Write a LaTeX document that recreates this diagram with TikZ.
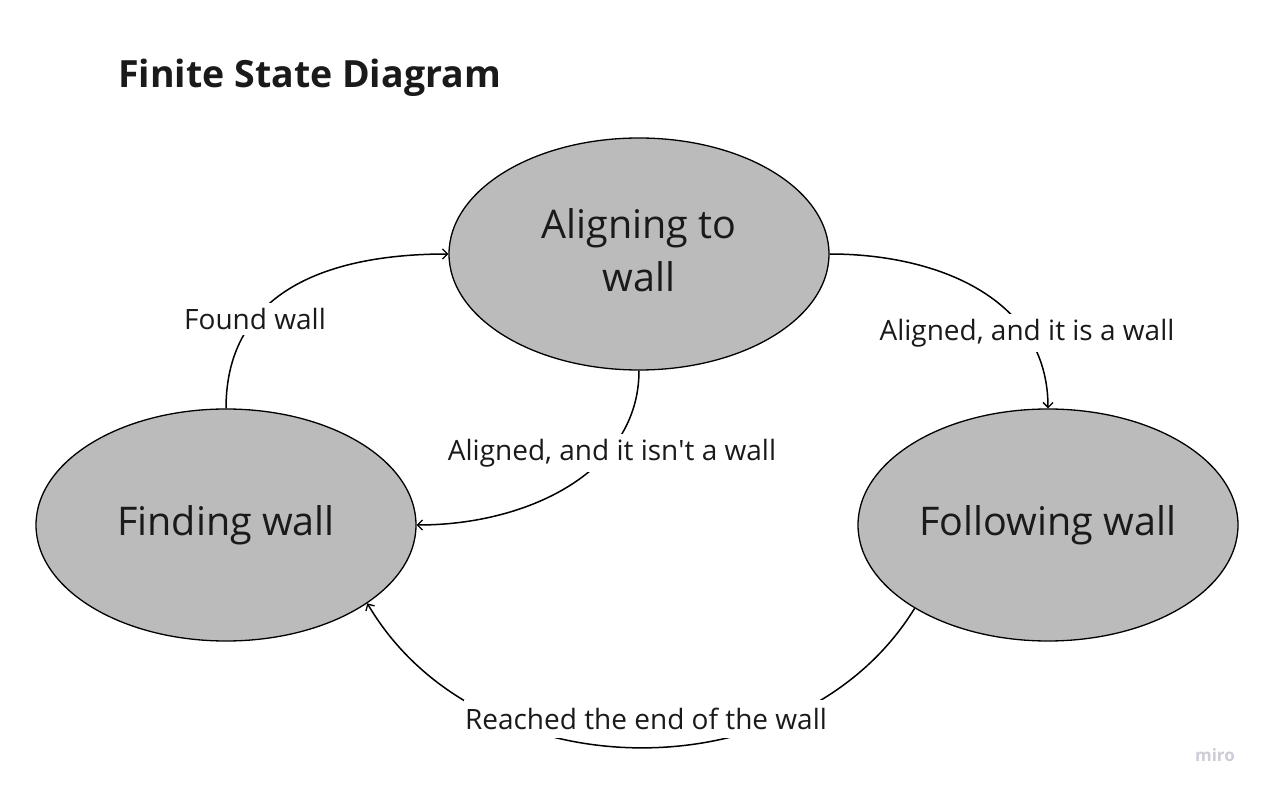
\documentclass[tikz,border=0pt]{standalone}
\usepackage{fontspec}
\setmainfont{Open Sans}
\usetikzlibrary{shapes.geometric,arrows.meta}
\definecolor{stategray}{RGB}{187,187,187}
\definecolor{txt}{RGB}{26,26,26}
\definecolor{mirogray}{RGB}{205,205,216}
\tikzset{
  state/.style={ellipse,draw=black,line width=1.3pt,fill=stategray,minimum width=380pt,minimum height=232pt,inner sep=0pt,align=center,text=txt,font=\fontsize{39.5}{53}\selectfont},
  trans/.style={line width=1.5pt,-{Straight Barb[length=5pt,width=10pt,line width=1.3pt]}},
  lbl/.style={fill=white,inner xsep=1pt,inner ysep=5pt,text=txt,font=\fontsize{28}{32}\selectfont},
}
\begin{document}
\begin{tikzpicture}[x=1pt,y=-1pt]
\useasboundingbox[fill=white] (0,0) rectangle (1264,791);
\node[anchor=base west,text=txt,font=\fontsize{37.5}{45}\selectfont\bfseries,inner sep=0pt] (title) at (118,88) {Finite State Diagram};
\node[state] (align) at (639,254) {\raisebox{3pt}{\begin{tabular}{@{}c@{}}Aligning to\\wall\end{tabular}}};
\node[state] (find) at (226,525) {Finding wall};
\node[state] (follow) at (1048,525) {Following wall};
\draw[trans] (find.north) .. controls (226,290) and (330,254) .. (align.west);
\draw[trans] (align.east) .. controls (940,254) and (1048,300) .. (follow.north);
\draw[trans] (align.south) .. controls (639,470) and (530,525) .. (find.east);
\draw[trans] (follow.212) .. controls (800,795) and (480,795) .. (find.-29);
\node[lbl] (l1) at (255,319) {Found wall};
\node[lbl] (l2) at (1027,333) {Aligned, and it is a wall};
\node[lbl] (l3) at (612,453) {Aligned, and it isn\textquotesingle t a wall};
\node[lbl,inner ysep=8pt] (l4) at (646,719) {Reached the end of the wall};
\node[text=mirogray,font=\fontsize{17}{20}\selectfont\bfseries,inner sep=0pt] (miro) at (1215,755) {miro};
\end{tikzpicture}
\end{document}
